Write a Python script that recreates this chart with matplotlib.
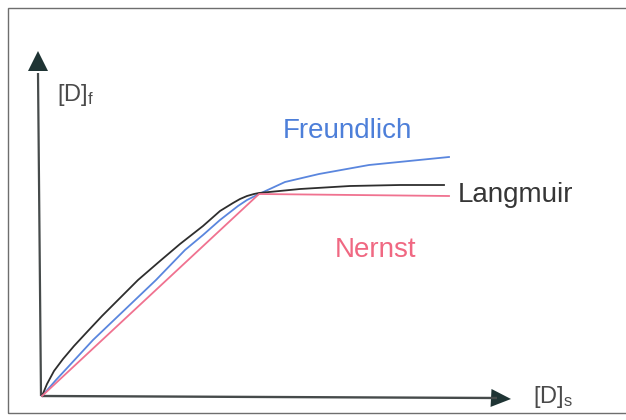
import matplotlib
matplotlib.use("Agg")
import matplotlib.pyplot as plt
from matplotlib.patches import FancyArrowPatch, Rectangle

plt.rcParams['font.family'] = ['Liberation Sans', 'DejaVu Sans']
plt.rcParams['mathtext.default'] = 'regular'

# Isotherm sketches: dissolved-in-solid concentration vs. free concentration
freundlich_x = [0, 0.14, 0.51, 0.93, 1.14, 1.43, 1.61, 1.78, 1.96, 2.05, 2.17, 2.43, 2.77, 3.27, 4.07]
freundlich_y = [0, 0.16, 0.56, 0.96, 1.16, 1.46, 1.61, 1.76, 1.90, 1.96, 2.02, 2.14, 2.22, 2.31, 2.39]

langmuir_x = [0, 0.05, 0.12, 0.21, 0.32, 0.45, 0.60, 0.78, 0.96, 1.18, 1.38, 1.61, 1.78, 1.91, 1.98, 2.05,
              2.12, 2.17, 2.58, 3.08, 3.58, 4.02]
langmuir_y = [0, 0.12, 0.25, 0.37, 0.50, 0.64, 0.80, 0.98, 1.16, 1.35, 1.52, 1.70, 1.85, 1.93, 1.97, 2.00,
              2.02, 2.03, 2.07, 2.10, 2.11, 2.11]

nernst_x = [0, 2.17, 4.07]
nernst_y = [0, 2.02, 2.00]

curve_names = ["Freundlich", "Langmuir", "Nernst"]
axis_labels = ["[D]$_{f}$", "[D]$_{s}$"]

fig = plt.figure(figsize=(6.26, 4.20), dpi=100)
ax = fig.add_axes([0, 0, 1, 1])
ax.set_xlim(-0.42, 5.84)
ax.set_ylim(-0.24, 3.96)
ax.axis('off')

# frame around the diagram (right side runs past the edge)
ax.add_patch(Rectangle((-0.34, -0.17), 6.7, 4.05, fill=False,
                       edgecolor='#6e6e6e', lw=1.0))

# axes with arrow heads
line_col = '#464b4b'
head_col = '#1f3434'
ax.plot([-0.01, -0.04], [0, 3.23], color=line_col, lw=1.6, solid_capstyle='butt')
ax.add_patch(FancyArrowPatch((-0.04, 3.18), (-0.04, 3.45),
                             arrowstyle='-|>,head_length=1.0,head_width=0.5',
                             mutation_scale=14.4, color=head_col, lw=0,
                             shrinkA=0, shrinkB=0))
ax.plot([0, 4.55], [0, -0.02], color=line_col, lw=1.7, solid_capstyle='butt')
ax.add_patch(FancyArrowPatch((4.50, -0.02), (4.69, -0.03),
                             arrowstyle='-|>,head_length=1.0,head_width=0.45',
                             mutation_scale=14.4, color=head_col, lw=0,
                             shrinkA=0, shrinkB=0))

# curves
blue = '#5a86de'
red = '#f07290'
black = '#2e2e2e'
ax.plot(freundlich_x, freundlich_y, color=blue, lw=1.3, solid_joinstyle='round')
ax.plot(langmuir_x, langmuir_y, color=black, lw=1.3, solid_joinstyle='round')
ax.plot(nernst_x, nernst_y, color=red, lw=1.3, solid_joinstyle='round')

# curve labels
ax.text(2.41, 2.58, curve_names[0], color='#4d7fd9', fontsize=20, va='baseline', ha='left')
ax.text(4.16, 1.94, curve_names[1], color='#363636', fontsize=20, va='baseline', ha='left')
ax.text(2.93, 1.39, curve_names[2], color='#f06882', fontsize=20, va='baseline', ha='left')

# axis labels
ax.text(0.15, 2.95, axis_labels[0], color='#4a4a4a', fontsize=17, va='baseline', ha='left')
ax.text(4.91, -0.07, axis_labels[1], color='#4a4a4a', fontsize=17, va='baseline', ha='left')

fig.savefig('out.png', dpi=100, facecolor='white')
